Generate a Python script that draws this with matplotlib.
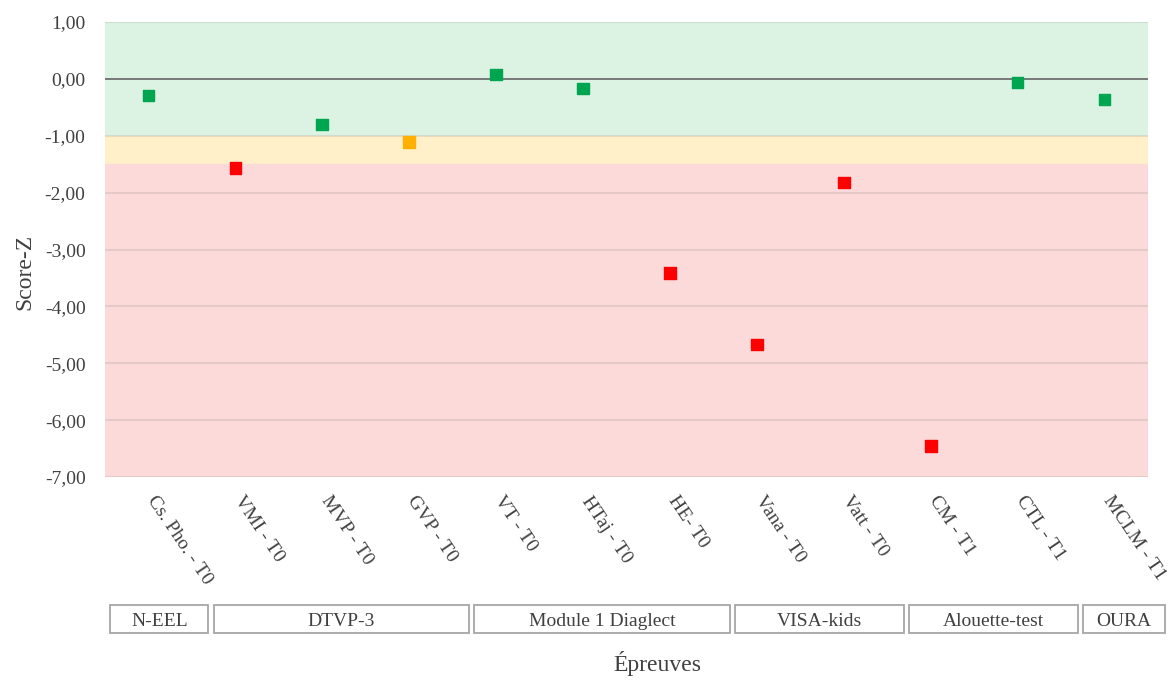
import matplotlib.pyplot as plt
from matplotlib.patches import Rectangle
from matplotlib.ticker import FuncFormatter
import matplotlib.transforms as mtransforms

plt.rcParams['font.family'] = ['Liberation Serif', 'DejaVu Serif']

epreuves = ['Cs. Pho. - T0', 'VMI - T0', 'MVP - T0', 'GVP - T0', 'VT - T0', 'HTaj - T0',
            'HE- T0', 'Vana - T0', 'Vatt - T0', 'CM - T1', 'CTL - T1', 'MCLM - T1']
scores = [-0.29, -1.57, -0.80, -1.11, 0.08, -0.17, -3.41, -4.67, -1.82, -6.46, -0.06, -0.36]
groupes = ['N-EEL', 'DTVP-3', 'Module 1 Diaglect', 'VISA-kids', 'Alouette-test', 'OURA']
tailles = [1, 3, 3, 2, 2, 1]

def couleur(z):
    if z >= -1:
        return '#00A550'
    if z >= -1.5:
        return '#FFB000'
    return '#FF0000'

fig = plt.figure(figsize=(11.7, 6.84), dpi=100)
ax = fig.add_axes([0.0897, 0.3026, 0.8915, 0.6652])

# zones de fond
ax.axhspan(-1, 1, color='#DCF2E3', zorder=0)
ax.axhspan(-1.5, -1, color='#FFF0C9', zorder=0)
ax.axhspan(-7, -1.5, color='#FDDADA', zorder=0)

for y in range(-7, 2):
    if y != 0:
        ax.axhline(y, color='#808080', alpha=0.18, lw=1.5, zorder=1)
ax.axhline(0, color='#6f6f6f', lw=1.3, zorder=2)

x = list(range(len(epreuves)))
ax.scatter(x, scores, marker='s', s=70, c=[couleur(z) for z in scores], zorder=3)

ax.set_xlim(-0.5, len(epreuves) - 0.5)
ax.set_ylim(-7, 1)
ax.set_yticks(range(-7, 2))
ax.yaxis.set_major_formatter(FuncFormatter(lambda v, p: f'{v:.2f}'.replace('.', ',')))
ax.tick_params(axis='y', length=0, labelsize=14, labelcolor='#404040', pad=14)
ax.set_xticks(x)
ax.set_xticklabels(epreuves, rotation=-56, ha='left', va='top', fontsize=14, color='#404040')
ax.tick_params(axis='x', length=0, pad=11.5)
decal = mtransforms.ScaledTranslation(-5 / 100, 0, fig.dpi_scale_trans)
for lab in ax.get_xticklabels():
    lab.set_transform(lab.get_transform() + decal)
for s in ax.spines.values():
    s.set_visible(False)

# boites des groupes (sous les etiquettes inclinees)
trans = mtransforms.blended_transform_factory(ax.transData, ax.transAxes)
bords = [-0.5]
for n in tailles:
    bords.append(bords[-1] + n)
bords = [-0.47] + [b + 0.22 for b in bords[1:]]
for i, nom in enumerate(groupes):
    g, d = bords[i], bords[i + 1]
    ax.add_patch(Rectangle((g + 0.03, -0.343), d - g - 0.06, 0.0615, transform=trans,
                           fill=False, edgecolor='#a6a6a6', lw=1.3, clip_on=False))
    ax.text((g + d) / 2, -0.317, nom, transform=trans, ha='center', va='center',
            fontsize=14, color='#404040')

fig.text(0.021, 0.602, 'Score-Z', rotation=90, ha='center', va='center', fontsize=17, color='#404040')
fig.text(0.562, 0.03, 'Épreuves', ha='center', va='center', fontsize=17, color='#404040')

fig.savefig('out.png')
